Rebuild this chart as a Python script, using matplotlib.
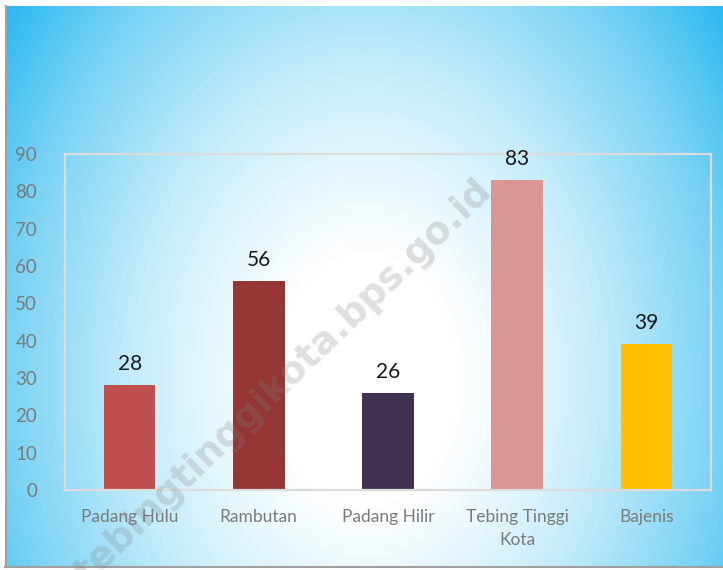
import numpy as np
import matplotlib.pyplot as plt
from matplotlib.colors import LinearSegmentedColormap

categories = ['Padang Hulu', 'Rambutan', 'Padang Hilir', 'Tebing Tinggi\nKota', 'Bajenis']
values = [28, 56, 26, 83, 39]
colors = ['#C0504D', '#943634', '#3F3151', '#D99694', '#FFC000']

W, H = 723, 570
fig = plt.figure(figsize=(W / 100, H / 100), dpi=100, facecolor='white')

# radial gradient background
bg = fig.add_axes([6 / W, 3 / H, 1 - 6 / W, 1 - 9 / H])
bg.set_axis_off()
yy, xx = np.mgrid[6:567, 6:723]
r = np.sqrt((xx - 365.0) ** 2 + ((yy - 380.0) / 1.35) ** 2)
t = np.clip((r - 90) / 390, 0, 1) ** 1.1
cmap = LinearSegmentedColormap.from_list('bg', ['#FFFFFF', '#C4ECFA', '#78D2F4', '#14B2F0'])
bg.imshow(t, cmap=cmap, vmin=0, vmax=1, aspect='auto', interpolation='bilinear')
fig.add_artist(plt.Line2D([5.5 / W, 5.5 / W], [3 / H, 1 - 6 / H], color='#A0A0A0', lw=1.5))
fig.add_artist(plt.Line2D([5 / W, 1], [3 / H, 3 / H], color='#A0A0A0', lw=1.5))

ax = fig.add_axes([65 / W, 1 - 490 / H, (711 - 65) / W, (490 - 154) / H])
ax.patch.set_alpha(0)
x = np.arange(len(categories))
bars = ax.bar(x, values, width=0.4, color=colors, zorder=2)
for xi, v in zip(x, values):
    ax.text(xi, v + 3, str(v), ha='center', va='bottom', fontsize=15,
            family='Lato', color='#1A1A1A')

ax.set_xlim(-0.5, len(categories) - 0.5)
ax.set_ylim(0, 90)
ax.set_yticks(range(0, 91, 10))
ax.set_xticks(x)
ax.set_xticklabels(categories)
for lbl in ax.get_xticklabels():
    lbl.set_fontfamily('Lato')
    lbl.set_fontsize(12.5)
    lbl.set_color('#7A7A7A')
    lbl.set_linespacing(1.5)
for lbl in ax.get_yticklabels():
    lbl.set_fontfamily('Lato')
    lbl.set_fontsize(13.5)
    lbl.set_color('#7A7A7A')
ax.tick_params(axis='x', length=0, pad=14)
ax.tick_params(axis='y', length=0, pad=20)
for s in ax.spines.values():
    s.set_color('#DCDCDC')
    s.set_linewidth(1.6)

fig.text(487 / W, 1 - 186 / H, 'tebingtinggikota.bps.go.id', rotation=44,
         rotation_mode='anchor', ha='right', va='center', fontsize=27,
         fontweight='bold', family='DejaVu Sans', color='#808080', alpha=0.25)

fig.savefig('out.png', dpi=100)
